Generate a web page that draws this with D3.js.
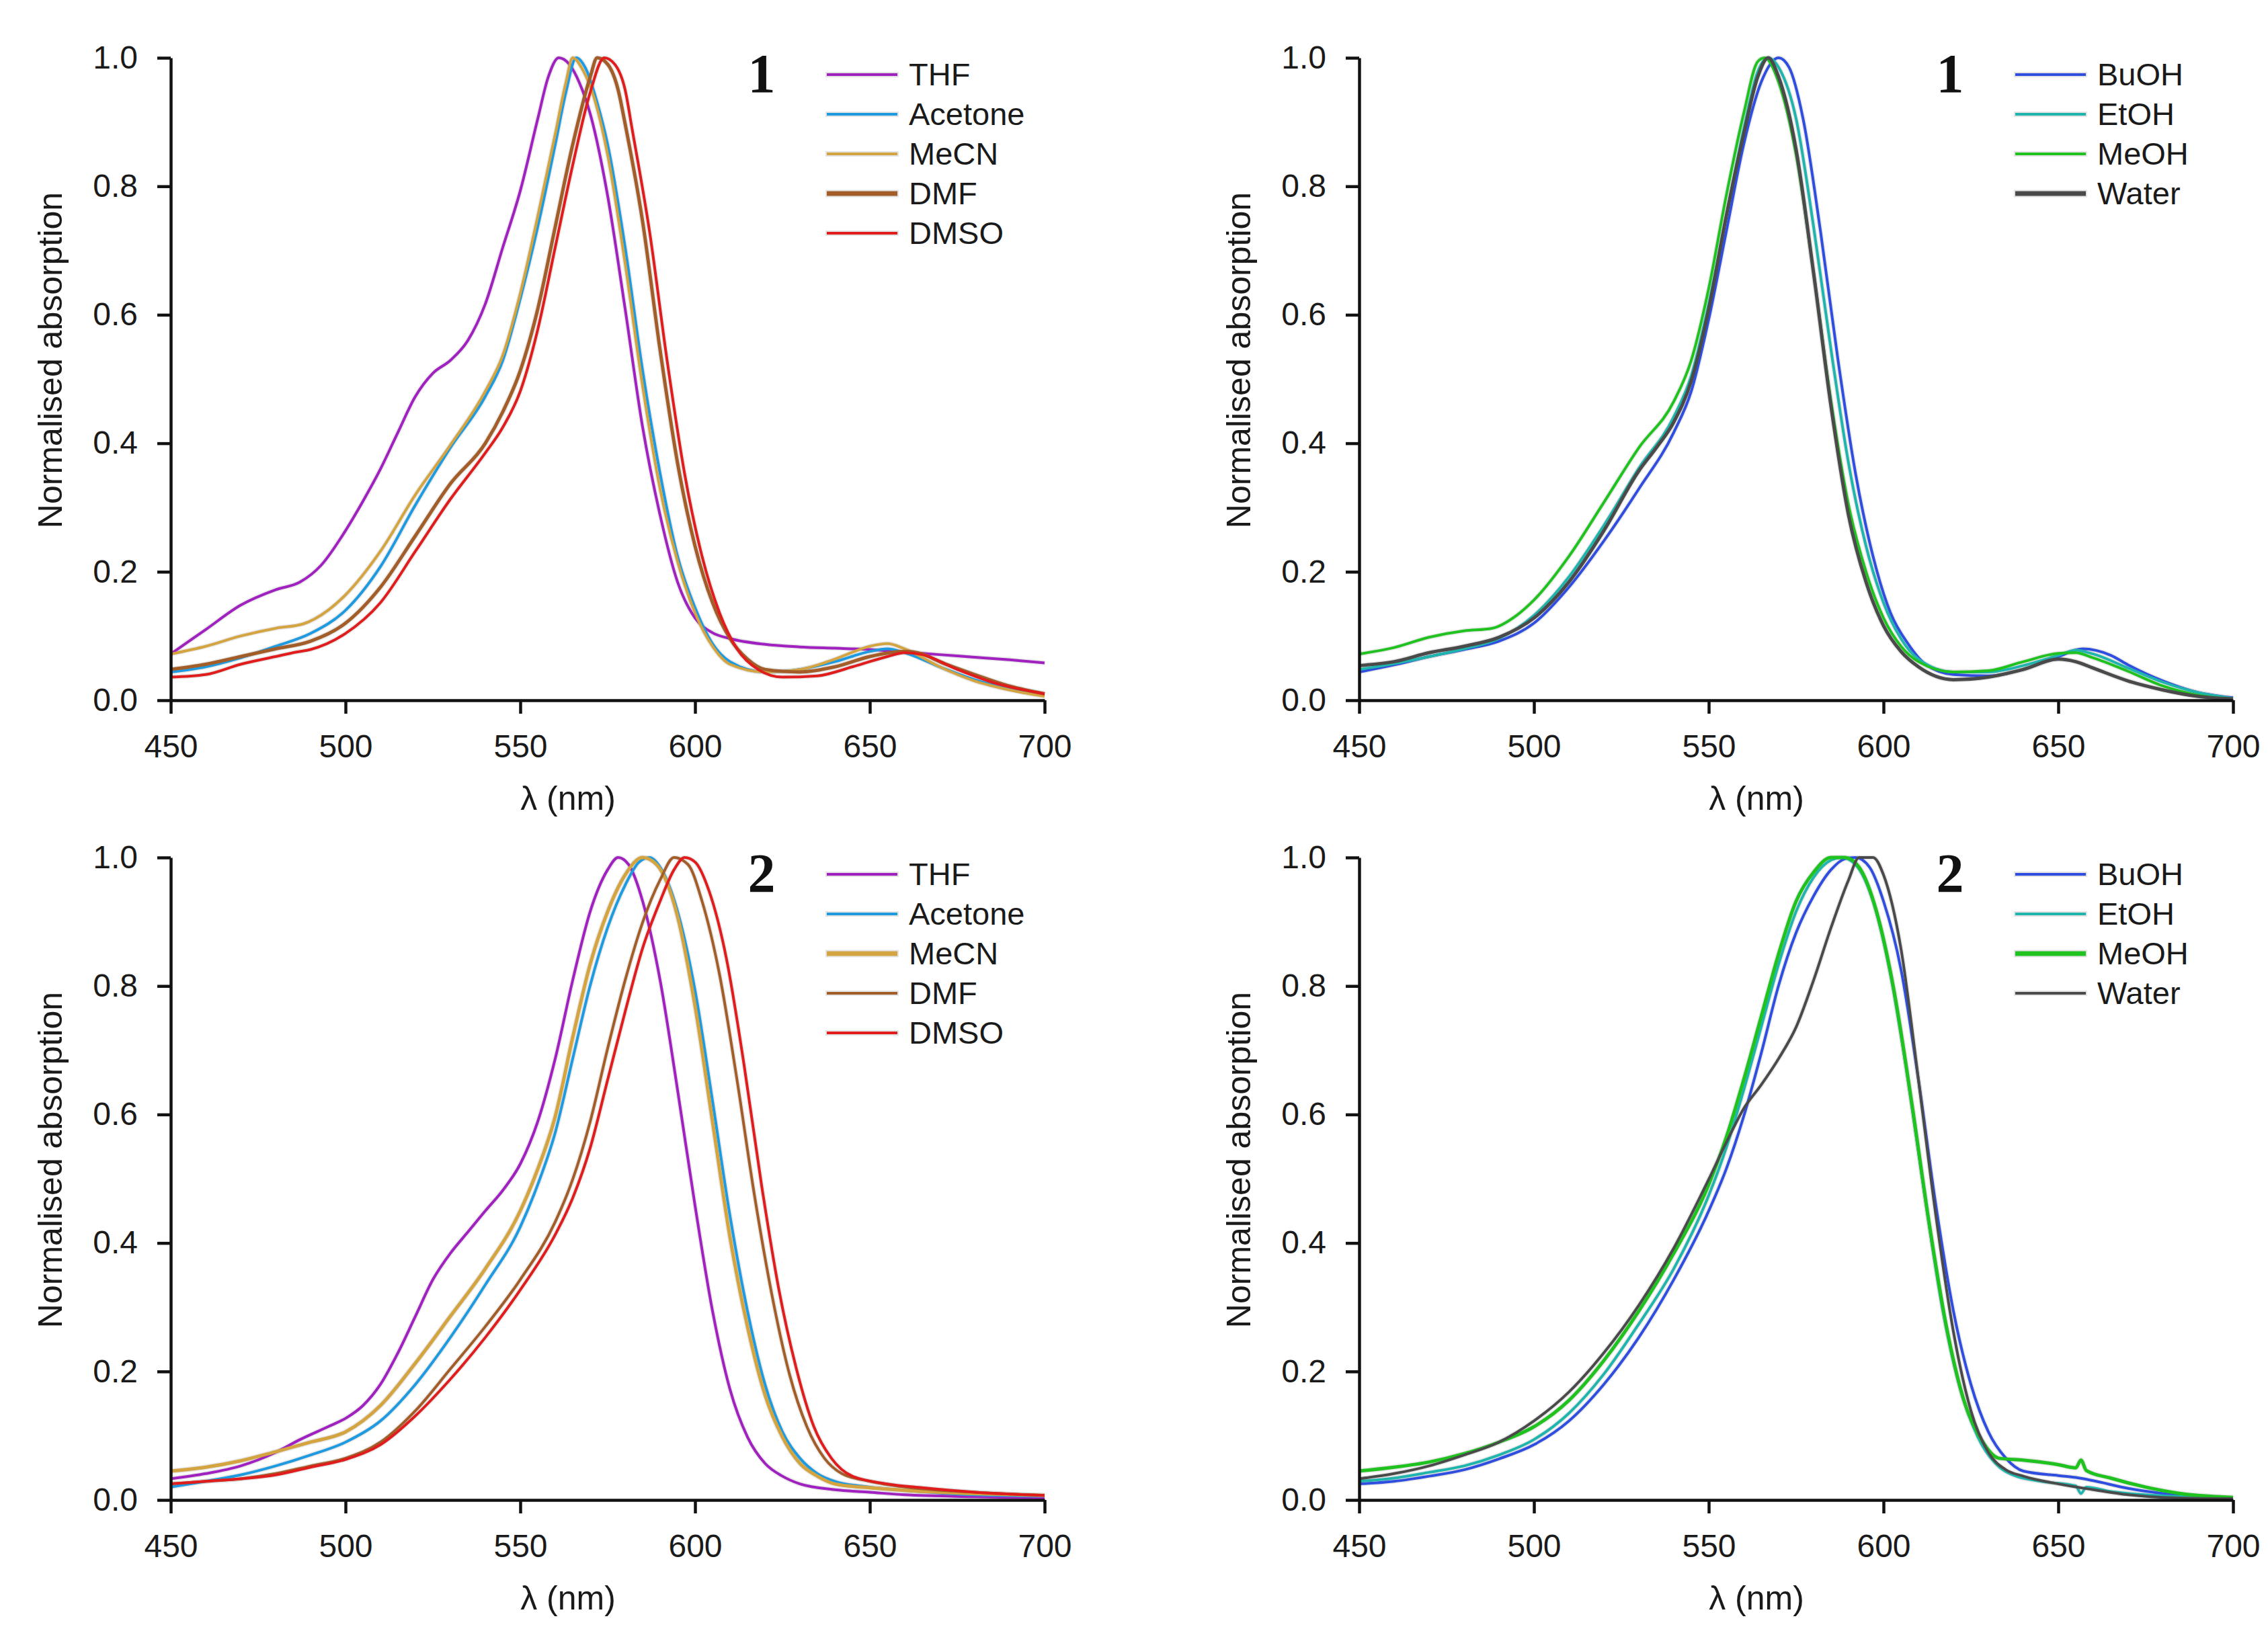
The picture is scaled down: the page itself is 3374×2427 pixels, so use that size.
<!DOCTYPE html>
<html>
<head>
<meta charset="utf-8">
<script src="https://cdn.jsdelivr.net/npm/d3@7"></script>
<style>
  html,body{margin:0;padding:0;background:#fff;}
  svg{display:block;}
</style>
</head>
<body>
<script>
// ---------- tick values ----------
const xTicks = [450, 500, 550, 600, 650, 700];
const yTicks = [0, 0.2, 0.4, 0.6, 0.8, 1.0];

// ---------- legends / colours ----------
const solventsAprotic = ["THF", "Acetone", "MeCN", "DMF", "DMSO"];
const solventsProtic  = ["BuOH", "EtOH", "MeOH", "Water"];
const coloursAprotic  = ["#a020c0", "#1e9be0", "#d4a440", "#a35d28", "#e01c1c"];
const coloursProtic   = ["#2f4ee0", "#1fb5ad", "#1fc21f", "#4a4a4a"];
const panelLabels     = ["1", "1", "2", "2"];

// ---------- compound 1, aprotic solvents: [λ nm, normalised absorption] ----------
const c1THF = [[450,.072],[460,.11],[470,.148],[480,.172],[487,.184],[493,.21],[500,.264],[505,.31],[510,.36],[515,.417],[520,.473],[525,.509],[530,.529],[535,.56],[540,.617],[545,.705],[550,.793],[555,.905],[558,.97],[561,1.0],[564,.99],[567,.96],[570,.913],[575,.785],[580,.609],[585,.425],[590,.288],[595,.184],[600,.128],[605,.105],[610,.096],[620,.087],[630,.083],[640,.081],[650,.079],[660,.075],[670,.071],[680,.067],[690,.063],[700,.058]];
const c1Acetone = [[450,.044],[460,.052],[470,.066],[480,.084],[490,.104],[500,.14],[510,.208],[520,.304],[530,.393],[540,.473],[545,.529],[550,.625],[555,.737],[560,.865],[563,.945],[566,1.0],[569,.98],[572,.93],[575,.865],[580,.705],[585,.513],[590,.353],[595,.224],[600,.144],[605,.088],[610,.06],[620,.044],[630,.048],[640,.06],[650,.076],[655,.08],[660,.074],[670,.052],[680,.032],[690,.018],[700,.008]];
const c1MeCN = [[450,.072],[460,.084],[470,.1],[480,.112],[488,.119],[495,.14],[500,.164],[510,.232],[520,.32],[530,.397],[540,.481],[545,.537],[550,.633],[555,.753],[560,.881],[563,.96],[565,1.0],[568,.98],[571,.94],[575,.849],[580,.68],[585,.489],[590,.329],[595,.216],[600,.136],[605,.084],[610,.056],[620,.044],[630,.048],[640,.064],[650,.084],[655,.088],[660,.08],[670,.052],[680,.03],[690,.016],[700,.006]];
const c1DMF = [[450,.048],[460,.056],[470,.068],[480,.08],[490,.092],[500,.12],[510,.176],[520,.256],[530,.337],[540,.4],[545,.449],[550,.513],[555,.609],[560,.737],[565,.865],[570,.97],[572,1.0],[575,.99],[578,.95],[580,.897],[585,.745],[590,.545],[595,.369],[600,.24],[605,.152],[610,.096],[615,.064],[620,.048],[630,.044],[640,.052],[650,.068],[660,.076],[665,.072],[670,.06],[680,.04],[690,.022],[700,.01]];
const c1DMSO = [[450,.036],[460,.04],[470,.056],[480,.068],[486,.075],[490,.079],[500,.104],[510,.152],[520,.232],[530,.313],[540,.385],[545,.425],[550,.481],[555,.577],[560,.705],[565,.833],[570,.946],[574,1.0],[577,.99],[580,.95],[582,.889],[587,.729],[592,.529],[597,.353],[602,.224],[607,.136],[612,.08],[618,.048],[625,.036],[635,.038],[645,.052],[655,.068],[660,.074],[665,.071],[675,.048],[685,.028],[700,.01]];

// ---------- compound 1, protic solvents ----------
const c1BuOH = [[450,.044],[460,.055],[470,.068],[480,.079],[490,.092],[500,.12],[510,.176],[520,.248],[530,.329],[540,.417],[545,.481],[550,.593],[555,.729],[560,.865],[565,.962],[570,1.0],[573,.985],[577,.905],[582,.729],[587,.529],[592,.353],[597,.224],[602,.136],[607,.088],[612,.056],[620,.04],[630,.038],[640,.048],[650,.068],[657,.08],[665,.07],[670,.055],[680,.03],[690,.012],[700,.004]];
const c1EtOH = [[450,.048],[460,.057],[470,.068],[480,.08],[490,.096],[500,.132],[510,.192],[520,.272],[530,.361],[540,.441],[545,.505],[550,.617],[555,.753],[560,.889],[564,.978],[567,1.0],[570,.985],[575,.905],[580,.737],[585,.545],[590,.369],[595,.24],[600,.152],[605,.096],[610,.064],[620,.044],[630,.044],[640,.054],[650,.07],[655,.078],[660,.072],[670,.05],[680,.028],[690,.012],[700,.003]];
const c1MeOH = [[450,.072],[460,.082],[470,.098],[480,.108],[488,.112],[495,.132],[500,.156],[510,.224],[520,.308],[530,.393],[540,.465],[545,.529],[550,.641],[555,.785],[560,.913],[564,.994],[566,1.0],[570,.962],[575,.849],[580,.665],[585,.465],[590,.304],[595,.2],[600,.128],[605,.084],[610,.06],[620,.044],[630,.046],[640,.06],[650,.073],[655,.074],[660,.066],[670,.045],[680,.022],[690,.008],[700,.002]];
const c1Water = [[450,.054],[460,.06],[470,.074],[480,.084],[490,.098],[500,.128],[510,.184],[520,.264],[530,.357],[535,.393],[540,.433],[545,.497],[550,.609],[555,.753],[560,.881],[564,.97],[567,1.0],[570,.97],[575,.857],[580,.665],[585,.457],[590,.288],[595,.184],[600,.116],[605,.076],[610,.052],[620,.032],[630,.036],[640,.048],[650,.064],[655,.06],[660,.05],[670,.03],[680,.016],[690,.006],[700,.002]];

// ---------- compound 2, aprotic solvents ----------
const c2THF = [[450,.033],[460,.041],[470,.053],[480,.074],[487,.094],[495,.114],[500,.127],[505,.147],[510,.18],[515,.229],[520,.286],[525,.343],[530,.384],[535,.417],[540,.45],[545,.482],[550,.523],[555,.589],[560,.687],[565,.809],[570,.916],[575,.981],[578,1.0],[581,.989],[585,.932],[590,.809],[595,.638],[600,.458],[605,.294],[610,.172],[615,.098],[620,.057],[625,.037],[630,.025],[640,.016],[650,.012],[660,.008],[680,.005],[700,.003]];
const c2Acetone = [[450,.02],[460,.029],[470,.039],[480,.053],[490,.07],[500,.09],[510,.123],[520,.18],[530,.253],[540,.335],[550,.425],[555,.491],[560,.572],[565,.687],[570,.801],[575,.891],[580,.957],[584,.993],[587,1.0],[590,.985],[595,.916],[600,.793],[605,.621],[610,.442],[615,.294],[620,.18],[625,.106],[630,.065],[635,.041],[640,.029],[650,.02],[660,.015],[680,.008],[700,.006]];
const c2MeCN = [[450,.045],[460,.051],[470,.061],[480,.075],[490,.09],[500,.106],[510,.147],[520,.213],[530,.286],[540,.36],[550,.45],[555,.515],[560,.597],[565,.72],[570,.834],[575,.916],[580,.973],[585,1.0],[589,.989],[595,.908],[600,.769],[605,.589],[610,.409],[615,.27],[620,.164],[625,.098],[630,.057],[635,.037],[640,.025],[650,.019],[660,.015],[680,.01],[700,.007]];
const c2DMF = [[450,.025],[460,.029],[470,.033],[480,.041],[490,.053],[500,.065],[510,.09],[520,.139],[530,.204],[540,.27],[550,.343],[560,.433],[565,.499],[570,.589],[575,.703],[580,.809],[585,.899],[590,.965],[594,1.0],[598,.989],[602,.932],[607,.818],[612,.654],[617,.474],[622,.319],[627,.196],[632,.114],[637,.065],[642,.041],[650,.029],[660,.02],[680,.012],[700,.007]];
const c2DMSO = [[450,.025],[460,.029],[470,.033],[480,.039],[490,.051],[500,.063],[510,.086],[520,.131],[530,.188],[540,.253],[550,.327],[560,.413],[565,.47],[570,.548],[575,.654],[580,.76],[585,.859],[590,.932],[594,.981],[597,1.0],[600,.993],[604,.948],[609,.842],[614,.678],[619,.491],[624,.327],[629,.204],[634,.114],[639,.065],[645,.037],[655,.025],[665,.019],[680,.012],[700,.007]];

// ---------- compound 2, protic solvents ----------
const c2BuOH = [[450,.025],[460,.029],[470,.037],[480,.047],[490,.064],[500,.086],[510,.123],[520,.18],[530,.253],[540,.343],[550,.45],[555,.515],[560,.597],[565,.695],[570,.801],[575,.883],[580,.94],[585,.981],[589,.998],[592,1.0],[596,.985],[600,.932],[605,.826],[610,.654],[615,.458],[620,.294],[625,.18],[630,.106],[635,.065],[640,.045],[650,.038],[655,.035],[660,.03],[670,.018],[680,.01],[700,.003]];
const c2EtOH = [[450,.029],[460,.034],[470,.043],[480,.053],[490,.07],[500,.094],[510,.135],[520,.196],[530,.274],[540,.36],[550,.474],[555,.548],[560,.638],[565,.736],[570,.834],[575,.916],[580,.969],[585,.996],[588,1.0],[592,.989],[597,.932],[602,.818],[607,.654],[612,.466],[617,.294],[622,.172],[627,.098],[632,.057],[637,.039],[645,.029],[655,.022],[656.5,.01],[658,.02],[665,.013],[675,.008],[700,.003]];
const c2MeOH = [[450,.045],[460,.051],[470,.059],[480,.072],[490,.09],[500,.114],[510,.155],[520,.217],[530,.294],[540,.384],[550,.491],[555,.564],[560,.654],[565,.752],[570,.85],[575,.932],[580,.977],[585,1.0],[589,1.0],[593,.985],[598,.916],[603,.793],[608,.621],[613,.433],[618,.27],[623,.155],[628,.094],[633,.065],[640,.062],[650,.055],[655,.05],[656.5,.062],[658,.046],[665,.034],[675,.02],[685,.01],[700,.004]];
const c2Water = [[450,.033],[460,.041],[470,.053],[480,.07],[490,.09],[500,.123],[510,.168],[520,.229],[530,.303],[540,.392],[550,.499],[555,.556],[560,.609],[565,.646],[570,.687],[575,.736],[580,.809],[585,.891],[590,.965],[593,1.0],[597,1.0],[600,.973],[605,.858],[610,.654],[615,.442],[620,.262],[625,.139],[630,.074],[635,.047],[640,.037],[650,.025],[660,.016],[670,.008],[680,.004],[700,.002]];

// ---------- panel assembly ----------
const panels = [
  {left: 254,  top: 86,   names: solventsAprotic, colours: coloursAprotic, series: [c1THF, c1Acetone, c1MeCN, c1DMF, c1DMSO], thick: "DMF"},
  {left: 2022, top: 86,   names: solventsProtic,  colours: coloursProtic,  series: [c1BuOH, c1EtOH, c1MeOH, c1Water], thick: "Water"},
  {left: 254,  top: 1276, names: solventsAprotic, colours: coloursAprotic, series: [c2THF, c2Acetone, c2MeCN, c2DMF, c2DMSO], thick: "MeCN"},
  {left: 2022, top: 1276, names: solventsProtic,  colours: coloursProtic,  series: [c2BuOH, c2EtOH, c2MeOH, c2Water], thick: "MeOH"}
];

const PW = 1300, PH = 956;
const SANS = "'Liberation Sans', Arial, sans-serif";
const SERIF = "'Liberation Serif', 'Times New Roman', serif";

const svg = d3.select("body").append("svg")
  .attr("width", 3374).attr("height", 2427)
  .attr("viewBox", "0 0 3374 2427");
svg.append("rect").attr("width", 3374).attr("height", 2427).attr("fill", "#fff");

panels.forEach((p, pi) => {
  const x = d3.scaleLinear().domain([450, 700]).range([p.left, p.left + PW]);
  const y = d3.scaleLinear().domain([0, 1]).range([p.top + PH, p.top]);
  const g = svg.append("g");

  const line = d3.line().x(d => x(d[0])).y(d => y(d[1])).curve(d3.curveMonotoneX);

  // halos then curves
  p.series.forEach((s, i) => {
    const w = p.names[i] === p.thick ? 5 : 4;
    g.append("path").datum(s).attr("d", line)
      .attr("fill", "none").attr("stroke", "#d4d4d4").attr("stroke-width", w + 3)
      .attr("stroke-opacity", 0.55).attr("stroke-linejoin", "round");
  });
  p.series.forEach((s, i) => {
    const w = p.names[i] === p.thick ? 5 : 4;
    g.append("path").datum(s).attr("d", line)
      .attr("fill", "none").attr("stroke", p.colours[i]).attr("stroke-width", w)
      .attr("stroke-linejoin", "round");
  });

  // axes
  const ax = g.append("g").attr("transform", `translate(0,${p.top + PH})`)
    .call(d3.axisBottom(x).tickValues(xTicks).tickFormat(d3.format("d")).tickSize(20).tickSizeOuter(0).tickPadding(31));
  const ay = g.append("g").attr("transform", `translate(${p.left},0)`)
    .call(d3.axisLeft(y).tickValues(yTicks).tickFormat(d3.format(".1f")).tickSize(20).tickSizeOuter(0).tickPadding(29));
  [ax, ay].forEach(a => {
    a.select(".domain").attr("stroke", "#111").attr("stroke-width", 4.5);
    a.selectAll(".tick line").attr("stroke", "#111").attr("stroke-width", 4.5);
    a.selectAll(".tick text").attr("fill", "#1a1a1a")
      .style("font-family", SANS).style("font-size", "48px");
  });

  // axis titles
  g.append("text")
    .attr("transform", `translate(${p.left - 180},${p.top + 450}) rotate(-90)`)
    .attr("dy", "0.35em").attr("text-anchor", "middle")
    .style("font-family", SANS).style("font-size", "50px").attr("fill", "#1a1a1a")
    .text("Normalised absorption");
  g.append("text")
    .attr("x", p.left + 591).attr("y", p.top + 1119)
    .attr("text-anchor", "middle")
    .style("font-family", SANS).style("font-size", "50px").attr("fill", "#1a1a1a")
    .text("λ (nm)");

  // compound label
  g.append("text")
    .attr("x", p.left + 879).attr("y", p.top + 51)
    .attr("text-anchor", "middle")
    .style("font-family", SERIF).style("font-weight", "bold").style("font-size", "82px")
    .attr("fill", "#111")
    .text(panelLabels[pi]);

  // legend
  const lg = g.append("g");
  p.names.forEach((n, i) => {
    const yy = p.top + 25 + i * 59;
    const w = n === p.thick ? 7 : 4;
    lg.append("line").attr("x1", p.left + 974).attr("x2", p.left + 1083)
      .attr("y1", yy).attr("y2", yy)
      .attr("stroke", "#d0d0d0").attr("stroke-width", w + 4).attr("stroke-opacity", 0.6);
    lg.append("line").attr("x1", p.left + 976).attr("x2", p.left + 1081)
      .attr("y1", yy).attr("y2", yy)
      .attr("stroke", p.colours[i]).attr("stroke-width", w);
    lg.append("text").attr("x", p.left + 1098).attr("y", yy).attr("dy", "0.35em")
      .style("font-family", SANS).style("font-size", "47px").attr("fill", "#1a1a1a")
      .text(n);
  });
});
</script>
</body>
</html>
